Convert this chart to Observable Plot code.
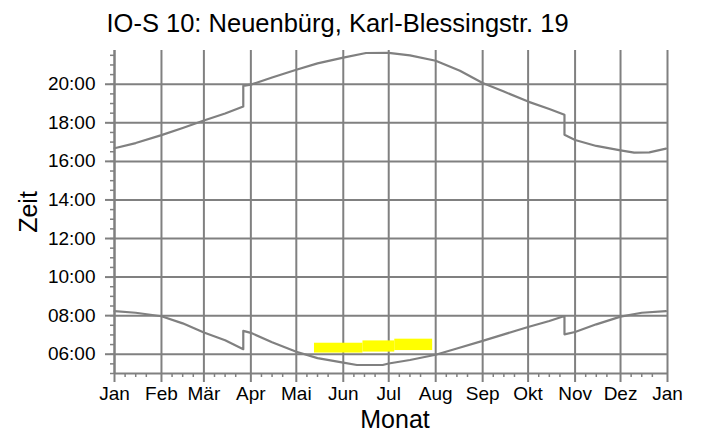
<!DOCTYPE html>
<html>
<head>
<meta charset="utf-8">
<script src="https://cdn.jsdelivr.net/npm/d3@7"></script>
<script src="https://cdn.jsdelivr.net/npm/@observablehq/plot@0.6"></script>
<style>
  html, body { margin: 0; padding: 0; background: #fff; }
</style>
</head>
<body>
<div id="chart"></div>
<script>
// ---- Data ----
const titleText = "IO-S 10: Neuenbürg, Karl-Blessingstr. 19";
const xLabel = "Monat";
const yLabel = "Zeit";
const monthLabels = ["Jan","Feb","Mär","Apr","Mai","Jun","Jul","Aug","Sep","Okt","Nov","Dez","Jan"];
const yTickHours = [6, 8, 10, 12, 14, 16, 18, 20];

// Upper curve (sunset), decimal hours
const sunsetDates = ["2023-01-01","2023-01-15","2023-02-01","2023-02-15","2023-03-01","2023-03-15","2023-03-27","2023-03-27","2023-04-01","2023-04-15","2023-05-01","2023-05-15","2023-06-01","2023-06-16","2023-07-01","2023-07-15","2023-08-01","2023-08-17","2023-09-01","2023-09-15","2023-10-01","2023-10-15","2023-10-25","2023-10-25","2023-11-01","2023-11-15","2023-12-01","2023-12-10","2023-12-20","2023-12-31"];
const sunsetTimes = [16.68,16.95,17.36,17.73,18.12,18.48,18.85,19.92,19.98,20.35,20.75,21.08,21.38,21.62,21.63,21.50,21.22,20.70,20.06,19.62,19.10,18.72,18.42,17.38,17.11,16.80,16.57,16.45,16.47,16.66];

// Lower curve (sunrise), decimal hours
const sunriseDates = ["2023-01-01","2023-01-15","2023-02-01","2023-02-15","2023-03-01","2023-03-15","2023-03-27","2023-03-27","2023-04-01","2023-04-15","2023-05-01","2023-05-15","2023-06-01","2023-06-10","2023-06-27","2023-07-01","2023-07-15","2023-08-01","2023-08-15","2023-09-01","2023-09-15","2023-10-01","2023-10-15","2023-10-25","2023-10-25","2023-11-01","2023-11-15","2023-12-01","2023-12-15","2023-12-31"];
const sunriseTimes = [8.23,8.15,7.97,7.60,7.13,6.72,6.26,7.21,7.11,6.62,6.13,5.80,5.56,5.44,5.44,5.52,5.70,5.97,6.30,6.69,7.03,7.41,7.72,7.98,7.03,7.15,7.55,7.95,8.15,8.23];

// Shadow periods (yellow)
const shadowFrom  = ["2023-05-13","2023-06-14","2023-07-05"];
const shadowTo    = ["2023-06-14","2023-07-05","2023-07-30"];
const shadowBegin = [6.06, 6.11, 6.19];
const shadowEnd   = [6.57, 6.69, 6.78];

// ---- Build tables ----
const parse = s => new Date(s + "T00:00:00Z");
const sunset = sunsetDates.map((d, i) => ({date: parse(d), h: sunsetTimes[i]}));
const sunrise = sunriseDates.map((d, i) => ({date: parse(d), h: sunriseTimes[i]}));
const shadow = shadowFrom.map((d, i) => ({x1: parse(d), x2: parse(shadowTo[i]), y1: shadowBegin[i], y2: shadowEnd[i]}));

const xStart = parse("2023-01-01");
const xEnd = parse("2024-01-01");
const monthStarts = d3.utcMonth.range(xStart, d3.utcDay.offset(xEnd, 1));
const minorX = monthStarts.slice(0, -1).flatMap(m => [7, 14, 21].map(k => d3.utcDay.offset(m, k)));
const minorY = d3.range(5, 21.75 + 1e-9, 0.5);

const gray = "#808080";
const font = "'Liberation Sans', Arial, Helvetica, sans-serif";

const chart = Plot.plot({
  width: 704,
  height: 432,
  marginLeft: 114,
  marginRight: 37,
  marginTop: 50,
  marginBottom: 59,
  style: {fontFamily: font, fontSize: "19px", background: "#fff", color: "#000", overflow: "visible"},
  x: {type: "utc", domain: [xStart, xEnd]},
  y: {domain: [5, 21.75]},
  marks: [
    Plot.gridX(monthStarts, {stroke: gray, strokeOpacity: 1, strokeWidth: 2}),
    Plot.gridY(yTickHours, {stroke: gray, strokeOpacity: 1, strokeWidth: 2}),
    Plot.rect(shadow, {x1: "x1", x2: "x2", y1: "y1", y2: "y2", fill: "#ffff00"}),
    Plot.line(sunset, {x: "date", y: "h", stroke: gray, strokeWidth: 2.2, curve: "linear"}),
    Plot.line(sunrise, {x: "date", y: "h", stroke: gray, strokeWidth: 2.2, curve: "linear"}),
    Plot.ruleY([5], {stroke: gray, strokeWidth: 2}),
    Plot.ruleX([xStart], {stroke: gray, strokeWidth: 2}),
    Plot.axisX(minorX, {tickSize: 4, text: null, label: null, stroke: gray, strokeWidth: 1.5}),
    Plot.axisX(monthStarts, {
      tickSize: 9, tickPadding: 4, label: null, stroke: gray, strokeWidth: 2,
      tickFormat: (d, i) => monthLabels[i], fontSize: 19
    }),
    Plot.axisY(minorY, {tickSize: 4, text: null, label: null, stroke: gray, strokeWidth: 1.5}),
    Plot.axisY(yTickHours, {
      tickSize: 9, tickPadding: 10, label: null, stroke: gray, strokeWidth: 2,
      tickFormat: h => String(h).padStart(2, "0") + ":00", fontSize: 19
    }),
    Plot.text([titleText], {text: d => d, frameAnchor: "top-left", textAnchor: "start", lineAnchor: "middle", dx: -8, dy: -27, fontSize: 25.5, fill: "#000"}),
    Plot.text([yLabel], {text: d => d, frameAnchor: "left", textAnchor: "middle", lineAnchor: "middle", dx: -86, rotate: -90, fontSize: 25, fill: "#000"}),
    Plot.text([xLabel], {text: d => d, frameAnchor: "bottom", textAnchor: "middle", lineAnchor: "middle", dx: 4, dy: 46, fontSize: 25, fill: "#000"})
  ]
});
document.getElementById("chart").appendChild(chart);
</script>
</body>
</html>
